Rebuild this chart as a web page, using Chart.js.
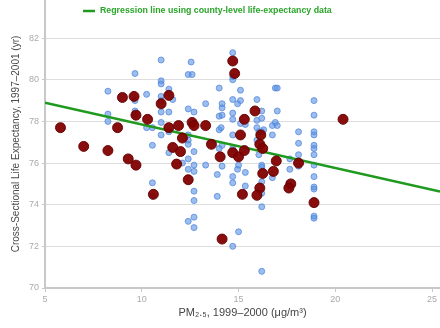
<!DOCTYPE html>
<html>
<head>
<meta charset="utf-8">
<script src="https://cdn.jsdelivr.net/npm/chart.js@4.4.0/dist/chart.umd.min.js"></script>
<style>
    html, body { margin: 0; padding: 0; background: #fff; }
    #wrap { width: 440px; height: 328px; }
</style>
</head>
<body>
<div id="wrap"><canvas id="chart"></canvas></div>
<script>
// county-level points [PM2.5, life expectancy]
const countyPoints = [
    [8.25, 79.45], [8.25, 78.35], [8.25, 78.0],
    [9.65, 80.3], [9.65, 78.5], [9.65, 78.35], [9.65, 79.0],
    [10.25, 79.3], [10.25, 77.7],
    [10.55, 77.7], [10.55, 76.85], [10.55, 75.05], [10.55, 74.4],
    [11.0, 80.95], [11.0, 79.95], [11.0, 79.8], [11.0, 79.2], [11.0, 79.0], [11.0, 78.45], [11.0, 77.95], [11.0, 77.35],
    [11.4, 79.55], [11.4, 79.35], [11.4, 78.45], [11.4, 77.5], [11.4, 76.5],
    [11.6, 79.05], [12.1, 76.0],
    [12.4, 80.25], [12.4, 78.6], [12.4, 77.35], [12.4, 77.1], [12.4, 76.9], [12.4, 76.2], [12.4, 75.7], [12.4, 73.2],
    [12.55, 80.85], [12.6, 80.25],
    [12.7, 78.45], [12.7, 76.55], [12.7, 75.9], [12.7, 75.6], [12.7, 74.65], [12.7, 74.2], [12.7, 73.4], [12.7, 72.9],
    [13.3, 78.85], [13.3, 75.9],
    [13.9, 75.45], [13.9, 74.4],
    [14.0, 79.6], [14.0, 78.25], [14.0, 77.6], [14.0, 76.7],
    [14.15, 78.85], [14.15, 78.65], [14.15, 78.3], [14.15, 76.85], [14.15, 75.85], [14.1, 77.7],
    [14.7, 81.3], [14.7, 80.15], [14.7, 80.0], [14.7, 79.05], [14.7, 78.4], [14.7, 78.1], [14.7, 77.35], [14.7, 76.7], [14.7, 75.35], [14.7, 75.05], [14.7, 72.0],
    [14.95, 78.85], [14.95, 75.7], [15.0, 75.9], [15.0, 72.7],
    [15.1, 79.5], [15.1, 79.0], [15.1, 77.9],
    [15.35, 77.85], [15.35, 75.55], [15.35, 74.9],
    [15.95, 79.05], [15.95, 78.05], [15.95, 77.7], [15.95, 77.1],
    [16.05, 77.5], [16.05, 76.4],
    [16.2, 78.5], [16.2, 78.15], [16.2, 77.5], [16.2, 75.9], [16.2, 75.8], [16.2, 75.1], [16.2, 74.55], [16.2, 73.9], [16.2, 70.8],
    [16.3, 77.6],
    [16.75, 77.8], [16.75, 77.35], [16.75, 75.3],
    [16.9, 79.6], [16.9, 77.95],
    [17.0, 79.6], [17.0, 78.5], [17.0, 77.8],
    [17.65, 76.2], [17.65, 75.7],
    [18.1, 77.5], [18.1, 76.95], [18.1, 76.4], [18.1, 75.85],
    [18.9, 79.0], [18.9, 78.3], [18.9, 77.5], [18.9, 77.35], [18.9, 76.85], [18.9, 76.7], [18.9, 76.4], [18.9, 75.9],
    [18.9, 75.35], [18.9, 74.85], [18.9, 74.75], [18.9, 73.45], [18.9, 73.35]
];

// larger dark red points
const areaPoints = [
    [5.8, 77.7], [7.0, 76.8], [8.25, 76.6], [8.75, 77.7], [9.0, 79.15], [9.6, 79.2], [9.7, 78.3], [10.3, 78.1],
    [9.3, 76.2], [9.7, 75.9], [10.6, 74.5], [11.0, 78.85], [11.4, 79.25], [11.4, 77.7], [11.6, 76.75], [11.8, 75.95],
    [11.9, 77.8], [12.1, 77.2], [12.0, 76.55], [12.4, 75.2], [12.6, 77.95], [12.7, 77.8], [13.3, 77.8], [13.6, 76.9],
    [14.05, 76.3], [14.7, 76.5], [15.0, 76.3], [14.7, 80.9], [14.8, 80.3], [15.3, 78.1], [15.1, 77.35], [15.3, 76.6],
    [15.2, 74.5], [14.15, 72.35], [15.85, 78.5], [16.15, 77.35], [16.1, 76.9], [16.25, 76.7], [16.95, 76.1], [16.8, 75.6],
    [16.25, 75.5], [16.1, 74.8], [15.95, 74.45], [17.7, 75.0], [17.6, 74.8], [18.1, 76.0], [18.9, 74.1], [20.4, 78.1]
];

const regressionX = [5, 25.41];
const regressionY = [78.9, 74.63];

const xTicks = [5, 10, 15, 20, 25];
const yTicks = [70, 72, 74, 76, 78, 80, 82];

const legendText = 'Regression line using county-level life-expectancy data';

function toXY(list) {
    return list.map(p => ({ x: p[0], y: p[1] }));
}

// simple legend drawn at the top, inside the plot
const topLegend = {
    id: 'topLegend',
    afterDraw(chart) {
        const ctx = chart.ctx;
        ctx.save();
        ctx.strokeStyle = '#1f9a1f';
        ctx.lineWidth = 2.5;
        ctx.beginPath();
        ctx.moveTo(83, 11);
        ctx.lineTo(95, 11);
        ctx.stroke();
        ctx.fillStyle = '#2aa52a';
        ctx.font = 'bold 8.8px "Liberation Sans", Arial, sans-serif';
        ctx.textBaseline = 'middle';
        ctx.fillText(legendText, 100, 11);
        ctx.restore();
    }
};

new Chart(document.getElementById('chart'), {
    type: 'scatter',
    data: {
        datasets: [
            {
                label: 'Areas',
                data: toXY(areaPoints),
                backgroundColor: 'rgba(130, 0, 0, 0.95)',
                borderColor: 'rgba(100, 0, 0, 0.9)',
                borderWidth: 1,
                pointRadius: 5,
                order: 0
            },
            {
                label: legendText,
                data: regressionX.map((x, i) => ({ x: x, y: regressionY[i] })),
                showLine: true,
                borderColor: '#1f9a1f',
                borderWidth: 2.5,
                pointRadius: 0,
                order: 1
            },
            {
                label: 'Counties',
                data: toXY(countyPoints),
                backgroundColor: 'rgba(90, 145, 225, 0.6)',
                borderColor: 'rgba(80, 135, 220, 0.75)',
                borderWidth: 1,
                pointRadius: 3,
                order: 2
            }
        ]
    },
    options: {
        responsive: true,
        maintainAspectRatio: false,
        animation: false,
        layout: { autoPadding: false, padding: { top: 0, right: 0, bottom: 8, left: 10 } },
        plugins: {
            legend: { display: false },
            tooltip: { enabled: false }
        },
        scales: {
            x: {
                type: 'linear',
                min: 5,
                max: 25.41,
                afterBuildTicks: axis => { axis.ticks = xTicks.map(v => ({ value: v })); },
                afterFit: axis => { axis.paddingRight = 0; },
                grid: {
                    drawOnChartArea: false,
                    drawTicks: true,
                    tickLength: 4,
                    color: '#c8c8c8'
                },
                border: { color: '#c8c8c8', width: 2 },
                ticks: {
                    color: '#aaaaaa',
                    font: { size: 9, family: '"Liberation Sans", Arial, sans-serif' },
                    padding: 2
                },
                title: {
                    display: true,
                    text: 'PM\u2082.\u2085, 1999\u20132000 (\u03bcg/m\u00b3)',
                    color: '#444444',
                    font: { size: 11, family: '"Liberation Sans", Arial, sans-serif' },
                    padding: { top: 0, bottom: 0 }
                }
            },
            y: {
                min: 70,
                max: 83.83,
                afterBuildTicks: axis => { axis.ticks = yTicks.map(v => ({ value: v })); },
                afterFit: axis => { axis.paddingTop = 0; },
                grid: {
                    color: '#dddddd',
                    tickLength: 3,
                    tickColor: '#c8c8c8',
                    tickBorderDash: [],
                    borderDash: [2, 3]
                },
                border: { color: '#c8c8c8', width: 2, dash: [] },
                ticks: {
                    color: '#aaaaaa',
                    font: { size: 9, family: '"Liberation Sans", Arial, sans-serif' },
                    padding: 3
                },
                title: {
                    display: true,
                    text: 'Cross-Sectional Life Expectancy, 1997\u20132001 (yr)',
                    color: '#4a4a4a',
                    font: { size: 10, family: '"Liberation Sans", Arial, sans-serif' },
                    padding: { top: 0, bottom: 4 }
                }
            }
        }
    },
    plugins: [topLegend]
});
</script>
</body>
</html>
